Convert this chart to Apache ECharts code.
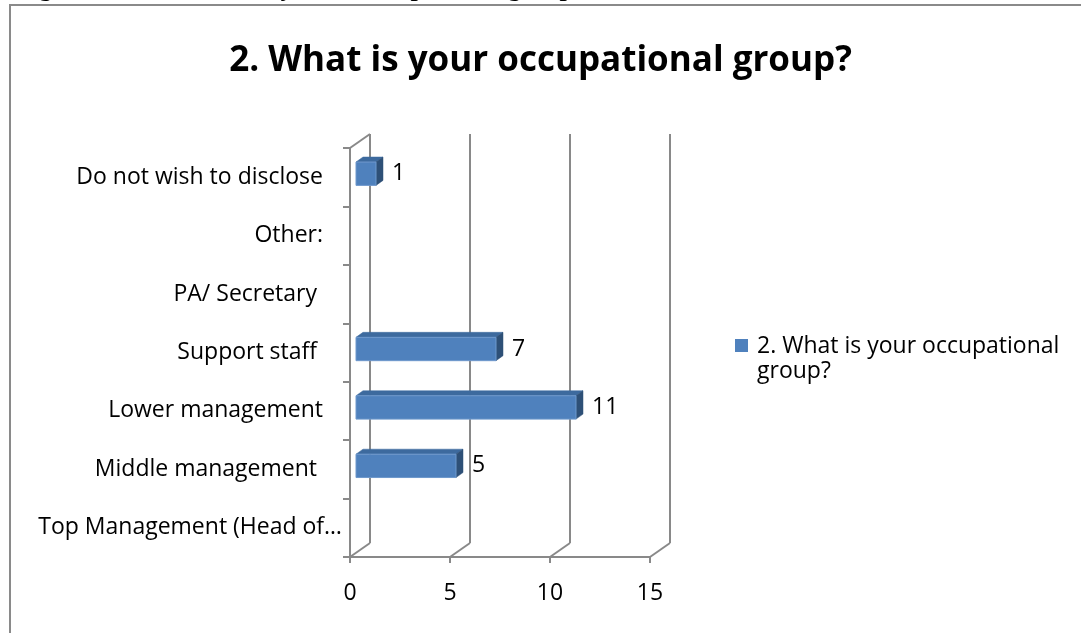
<!DOCTYPE html>
<html>
<head>
<meta charset="utf-8">
<script src="https://cdn.jsdelivr.net/npm/echarts@6/dist/echarts.min.js"></script>
<style>
html,body{margin:0;padding:0;background:#fff;}
#c{width:1081px;height:633px;}
</style>
</head>
<body>
<div id="c"></div>
<script>
const categories = ['Top Management (Head of\u2026', 'Middle management ', 'Lower management', 'Support staff ', 'PA/ Secretary ', 'Other:', 'Do not wish to disclose'];
const values = [0, 5, 11, 7, 0, 0, 1];
const xTicks = [0, 5, 10, 15];
const seriesName = '2. What is your occupational group?';
const legendLines = ['2. What is your occupational', 'group?'];
const chartTitle = '2. What is your occupational group?';
const caption = 'Figure 2: Distribution by their occupational group';

const FONT = 'Open Sans';
const FS = 23;
const GRID = '#898989';

const chart = echarts.init(document.getElementById('c'), null, {renderer: 'canvas'});

const barData = values.map((v, i) => [v, i]);
const wallData = xTicks.map(t => [t, 0]);

const D = 20, E = -14; // wall depth offset

const option = {
  backgroundColor: '#fff',
  animation: false,
  title: {
    text: chartTitle,
    left: 'center',
    top: 39,
    textStyle: {fontFamily: FONT, fontWeight: 'bold', fontSize: 35, color: '#000'}
  },
  graphic: [
    {type: 'rect', shape: {x: 10, y: 5, width: 1200, height: 800}, style: {fill: 'none', stroke: '#8a8a8a', lineWidth: 2}, z: 100},
    {type: 'text', x: 16, y: 2, style: {text: caption, fontFamily: 'Liberation Serif', fontWeight: 'bold', fontSize: 26, fill: '#000', verticalAlign: 'bottom'}, z: 99}
  ],
  legend: {
    data: [seriesName],
    left: 735,
    top: 334,
    icon: 'path://M0,0L13,0L13,13L0,13Z M17,40L17,40.01',
    itemWidth: 17,
    itemHeight: 40,
    itemGap: 0,
    padding: 0,
    formatter: () => legendLines.join('\n'),
    textStyle: {fontFamily: FONT, fontSize: FS, color: '#000', lineHeight: 25}
  },
  grid: {left: 350, top: 148, width: 300, height: 409, containLabel: false},
  xAxis: {
    type: 'value',
    min: 0, max: 15, interval: 5,
    axisLine: {show: true, lineStyle: {color: GRID, width: 2}},
    axisTick: {show: true, length: 6, lineStyle: {color: GRID, width: 2}},
    axisLabel: {fontFamily: FONT, fontSize: FS, color: '#000', margin: 25},
    splitLine: {show: false}
  },
  yAxis: {
    type: 'category',
    data: categories,
    axisLine: {show: true, lineStyle: {color: GRID, width: 2}},
    axisTick: {show: true, length: 7, lineStyle: {color: GRID, width: 2}},
    axisLabel: {
      fontFamily: FONT, fontSize: FS, color: '#000', margin: 8,
      formatter: (v, i) => i === 0 ? '{b|' + v + '}' : '{a|' + v + '}',
      rich: {
        a: {fontFamily: FONT, fontSize: FS, color: '#000', padding: [0, 19, 0, 0]},
        b: {fontFamily: FONT, fontSize: FS, color: '#000'}
      }
    },
    splitLine: {show: false}
  },
  series: [
    {
      type: 'custom',
      name: 'walls',
      data: wallData,
      encode: {x: 0, y: 1},
      z: 1,
      silent: true,
      renderItem: (params, api) => {
        const x = api.coord([api.value(0), 0])[0];
        const cs = params.coordSys;
        const top = cs.y, bot = cs.y + cs.height;
        const st = {stroke: GRID, lineWidth: 2};
        const children = [
          {type: 'line', shape: {x1: x + D, y1: top + E, x2: x + D, y2: bot + E}, style: st},
          {type: 'line', shape: {x1: x, y1: bot, x2: x + D, y2: bot + E}, style: st}
        ];
        if (params.dataIndex === 0) {
          children.push({type: 'line', shape: {x1: x, y1: top, x2: x + D, y2: top + E}, style: st});
        }
        return {type: 'group', children};
      }
    },
    {
      type: 'custom',
      name: seriesName,
      data: barData,
      encode: {x: 0, y: 1},
      itemStyle: {color: '#4F81BD'},
      z: 5,
      renderItem: (params, api) => {
        const v = api.value(0), c = api.value(1);
        if (!v) return null;
        const p0 = api.coord([0, c]);
        const p1 = api.coord([v, c]);
        const band = api.size([0, 1])[1];
        const h = band * 0.4;
        const ox = 6, oy = -3.5, dx = 7, dy = -5;
        const x0 = p0[0] + ox, x1 = p1[0] + ox;
        const yT = p0[1] + oy - h / 2, yB = yT + h;
        return {
          type: 'group',
          children: [
            {type: 'polygon', shape: {points: [[x0, yT], [x1, yT], [x1 + dx, yT + dy], [x0 + dx, yT + dy]]}, style: {fill: '#3D6A9E', stroke: '#3D6A9E', lineWidth: 0.5}},
            {type: 'polygon', shape: {points: [[x1, yT], [x1 + dx, yT + dy], [x1 + dx, yB + dy], [x1, yB]]}, style: {fill: '#2E5077', stroke: '#2E5077', lineWidth: 0.5}},
            {type: 'rect', shape: {x: x0, y: yT, width: x1 - x0, height: h}, style: {fill: '#4F81BD', stroke: '#6E98CC', lineWidth: 1}},
            {type: 'text', x: x1 + 16, y: (yT + yB) / 2, style: {text: String(v), fontFamily: FONT, fontSize: FS, fill: '#000', verticalAlign: 'middle', align: 'left'}}
          ]
        };
      }
    }
  ]
};
chart.setOption(option);
</script>
</body>
</html>
